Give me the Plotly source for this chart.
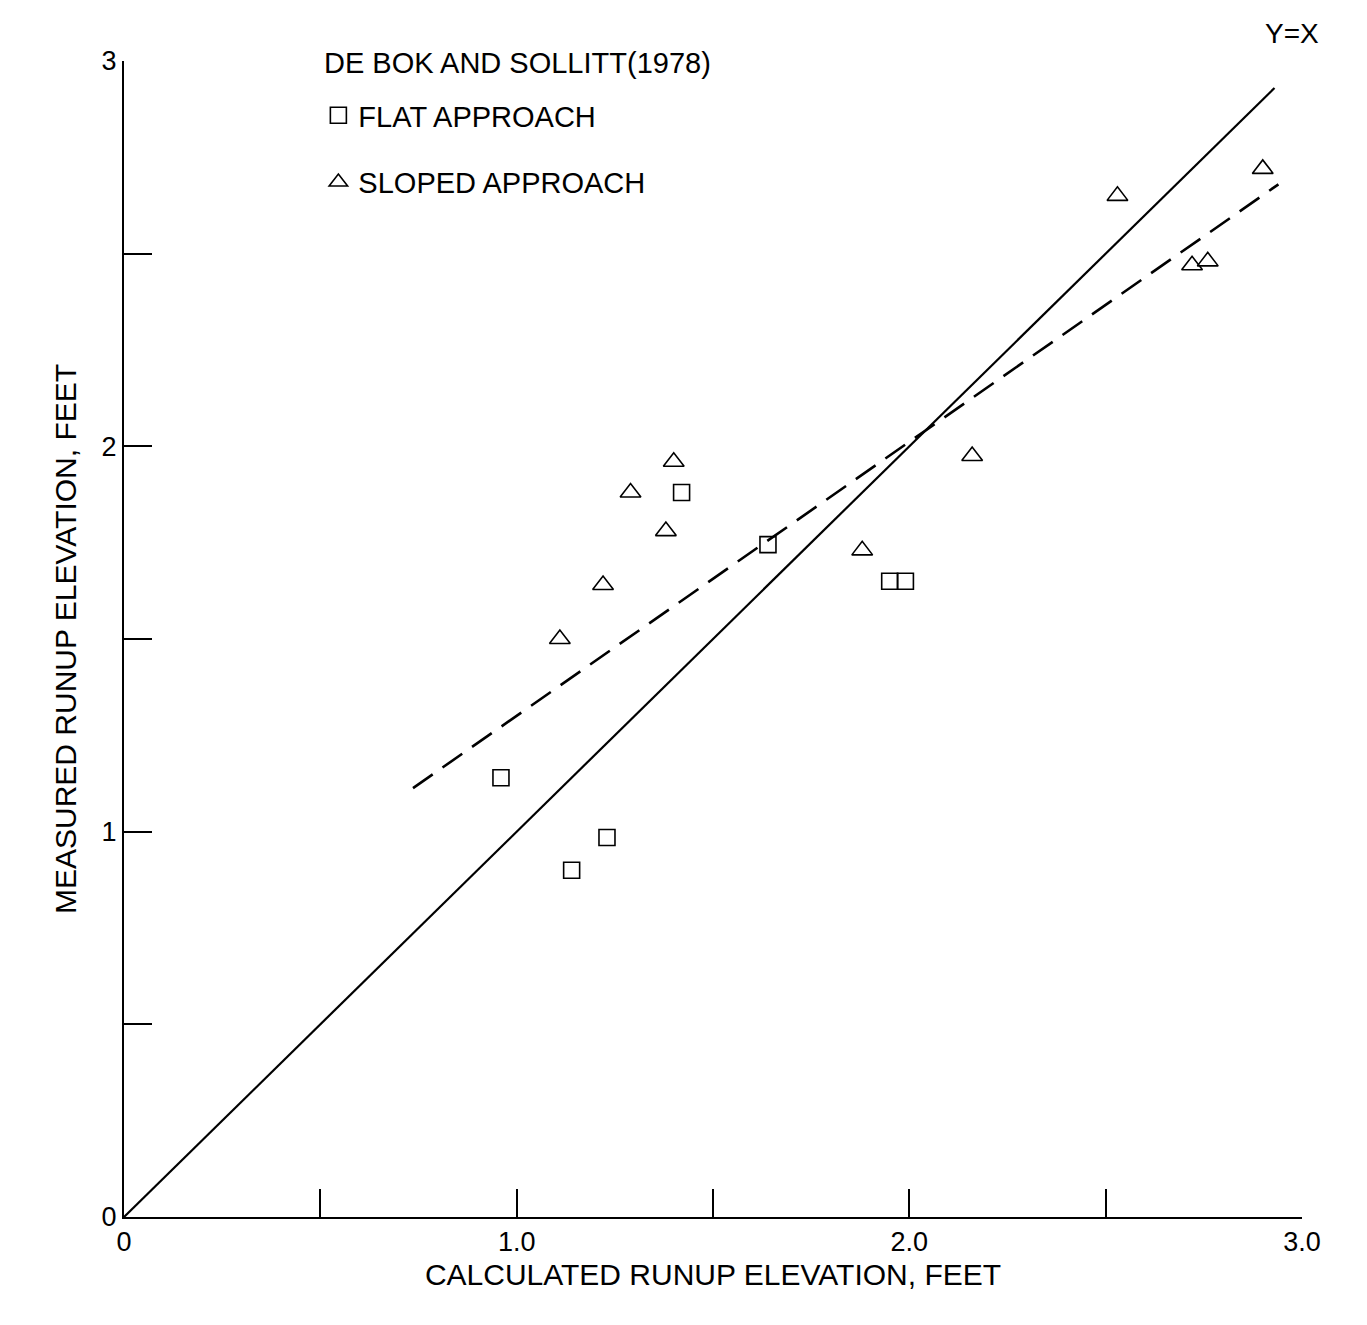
import plotly.graph_objects as go

# Data
flat_x = [0.96, 1.14, 1.23, 1.42, 1.64, 1.95, 1.99]
flat_y = [1.14, 0.90, 0.985, 1.88, 1.745, 1.65, 1.65]

sloped_x = [1.11, 1.22, 1.29, 1.40, 1.38, 1.88, 2.16, 2.53, 2.72, 2.76, 2.90]
sloped_y = [1.50, 1.64, 1.88, 1.96, 1.78, 1.73, 1.975, 2.65, 2.47, 2.48, 2.72]

yx_x = [0.0, 2.93]
yx_y = [0.0, 2.93]

fit_x = [0.736, 2.94]
fit_y = [1.113, 2.68]

tick_vals = [0, 0.5, 1.0, 1.5, 2.0, 2.5, 3.0]
x_tick_text = ["0", "", "1.0", "", "2.0", "", "3.0"]
y_tick_text = ["0", "", "1", "", "2", "", "3"]

FONT = "Liberation Sans, Arial, Helvetica, sans-serif"

fig = go.Figure()

fig.add_trace(go.Scatter(x=yx_x, y=yx_y, mode="lines",
                         line=dict(color="black", width=2.2),
                         showlegend=False, hoverinfo="skip"))
fig.add_trace(go.Scatter(x=fit_x, y=fit_y, mode="lines",
                         line=dict(color="black", width=2.6, dash="24px,12px"),
                         showlegend=False, hoverinfo="skip"))
fig.add_trace(go.Scatter(x=flat_x, y=flat_y, mode="markers", name="FLAT APPROACH",
                         legendgroup="a",
                         marker=dict(symbol="square-open", size=16, color="black",
                                     line=dict(width=1.6, color="black"))))
fig.add_trace(go.Scatter(x=sloped_x, y=sloped_y, mode="markers", name="SLOPED APPROACH",
                         legendgroup="b",
                         marker=dict(symbol="triangle-up-open", size=18, color="black",
                                     line=dict(width=1.6, color="black"))))

fig.add_annotation(text="Y=X", x=1.0, y=1.0, xref="paper", yref="paper",
                   xanchor="center", yanchor="middle", xshift=-10, yshift=28,
                   showarrow=False, font=dict(family=FONT, size=28, color="black"))

fig.add_annotation(text="DE BOK AND SOLLITT(1978)", x=0.168, y=1.0,
                   xref="paper", yref="paper", xanchor="left", yanchor="middle",
                   yshift=-2, showarrow=False,
                   font=dict(family=FONT, size=29, color="black"))

axis_common = dict(
    showgrid=False, zeroline=False, showline=True, linecolor="black", linewidth=2,
    ticks="inside", ticklen=28, tickwidth=1.6, tickcolor="black",
    tickmode="array", tickvals=tick_vals, range=[0, 3],
    tickfont=dict(family=FONT, size=27, color="black"),
)

fig.update_layout(
    width=1367, height=1325,
    margin=dict(l=124, r=65, t=61, b=108),
    paper_bgcolor="white", plot_bgcolor="white",
    font=dict(family=FONT, color="black"),
    xaxis=dict(**axis_common, ticktext=x_tick_text,
               title=dict(text="CALCULATED RUNUP ELEVATION, FEET",
                          font=dict(family=FONT, size=30, color="black"), standoff=8)),
    yaxis=dict(**axis_common, ticktext=y_tick_text,
               title=dict(text="MEASURED RUNUP ELEVATION, FEET",
                          font=dict(family=FONT, size=30, color="black"), standoff=16)),
    legend=dict(x=0.165, y=0.975, xanchor="left", yanchor="top",
                bgcolor="rgba(0,0,0,0)",
                font=dict(family=FONT, size=29, color="black"),
                tracegroupgap=26, itemwidth=30),
)

fig.write_html("out.html")
